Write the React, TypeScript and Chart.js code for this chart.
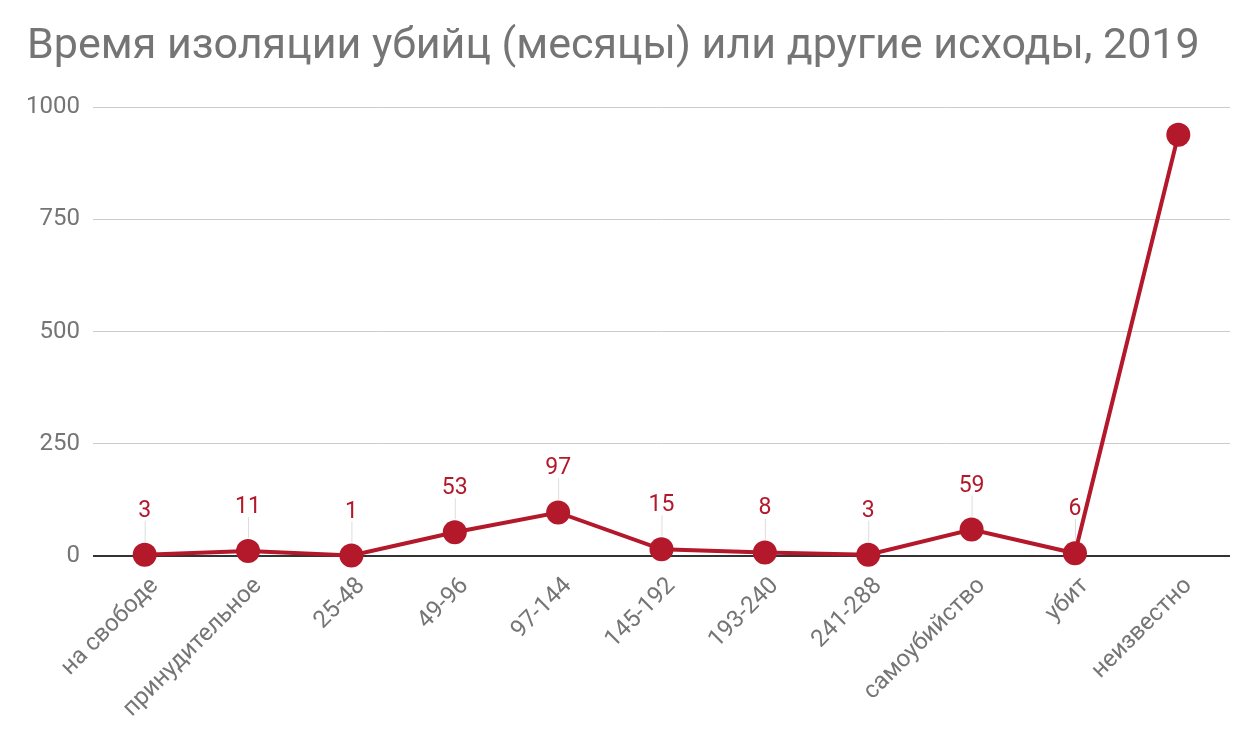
import React, { useEffect, useRef } from "react";
import { Chart, registerables } from "chart.js";

Chart.register(...registerables);

const TITLE = "Время изоляции убийц (месяцы) или другие исходы, 2019";
const categories = [
  "на свободе",
  "принудительное",
  "25-48",
  "49-96",
  "97-144",
  "145-192",
  "193-240",
  "241-288",
  "самоубийство",
  "убит",
  "неизвестно",
];
const values = [3, 11, 1, 53, 97, 15, 8, 3, 59, 6, 938];
const showValueLabel = [true, true, true, true, true, true, true, true, true, true, false];
const yTicks = [0, 250, 500, 750, 1000];

const RED = "#b3182b";
const GRAY = "#757575";
const FONT = "Roboto, 'Noto Sans', sans-serif";

const titlePlugin = {
  id: "customTitle",
  afterDraw(chart: any) {
    const ctx = chart.ctx;
    ctx.save();
    ctx.font = `43px ${FONT}`;
    ctx.fillStyle = GRAY;
    ctx.textAlign = "left";
    ctx.textBaseline = "alphabetic";
    ctx.fillText(TITLE, 27, 58);
    ctx.restore();
  },
};

const labelPlugin = {
  id: "valueLabels",
  afterDatasetsDraw(chart: any) {
    const ctx = chart.ctx;
    const meta = chart.getDatasetMeta(0);
    ctx.save();
    meta.data.forEach((pt: any, i: number) => {
      if (!showValueLabel[i]) return;
      const x = pt.x;
      const y = pt.y;
      ctx.strokeStyle = "#dddddd";
      ctx.lineWidth = 1;
      ctx.beginPath();
      ctx.moveTo(x + 0.5, y - 13);
      ctx.lineTo(x + 0.5, y - 34);
      ctx.stroke();
      ctx.font = `23px ${FONT}`;
      ctx.fillStyle = RED;
      ctx.textAlign = "center";
      ctx.textBaseline = "alphabetic";
      ctx.fillText(String(values[i]), x, y - 38);
    });
    ctx.restore();
  },
};

export default function App() {
  const ref = useRef<HTMLCanvasElement | null>(null);
  useEffect(() => {
    if (!ref.current) return;
    const chart = new Chart(ref.current, {
      type: "line",
      data: {
        labels: categories,
        datasets: [
          {
            data: values,
            borderColor: RED,
            backgroundColor: RED,
            borderWidth: 4,
            pointRadius: 12,
            pointHoverRadius: 12,
            pointBackgroundColor: RED,
            pointBorderWidth: 0,
            tension: 0,
            clip: false as any,
          },
        ],
      },
      options: {
        animation: false,
        responsive: true,
        maintainAspectRatio: false,
        layout: { padding: { top: 107, right: 21, left: 0, bottom: 0 } },
        plugins: {
          legend: { display: false },
          title: { display: false },
          tooltip: { enabled: false },
        },
        scales: {
          x: {
            offset: true,
            grid: { display: false },
            border: { display: false },
            ticks: {
              autoSkip: false,
              maxRotation: 45,
              minRotation: 45,
              color: GRAY,
              font: { size: 24, family: FONT },
              padding: 8,
              labelOffset: 10,
            },
            afterFit(scale: any) {
              scale.height = 195;
            },
          },
          y: {
            min: 0,
            max: 1000,
            afterBuildTicks(scale: any) {
              scale.ticks = yTicks.map((v) => ({ value: v }));
            },
            grid: {
              drawTicks: false,
              color: (c: any) => (c.tick && c.tick.value === 0 ? "#333333" : "#cccccc"),
              lineWidth: (c: any) => (c.tick && c.tick.value === 0 ? 2 : 1),
            },
            border: { display: false },
            ticks: {
              color: GRAY,
              font: { size: 24, family: FONT },
              padding: 13,
              callback: (v: any) => String(v),
            },
            afterFit(scale: any) {
              scale.width = 93;
            },
          },
        },
      },
      plugins: [titlePlugin, labelPlugin],
    });
    return () => chart.destroy();
  }, []);
  return (
    <div style={{ position: "absolute", left: 0, top: 0, width: 1251, height: 751, background: "#fff" }}>
      <canvas ref={ref} />
    </div>
  );
}
